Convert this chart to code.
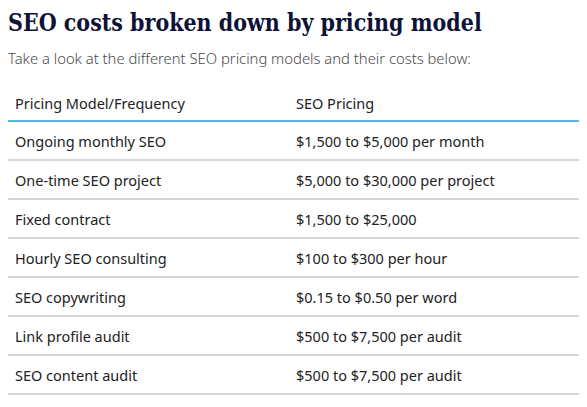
import React from 'react'

const title = 'SEO costs broken down by pricing model'
const subtitle = 'Take a look at the different SEO pricing models and their costs below:'
const headers = ['Pricing Model/Frequency', 'SEO Pricing']

const models = [
  'Ongoing monthly SEO',
  'One-time SEO project',
  'Fixed contract',
  'Hourly SEO consulting',
  'SEO copywriting',
  'Link profile audit',
  'SEO content audit',
]

const prices = [
  '$1,500 to $5,000 per month',
  '$5,000 to $30,000 per project',
  '$1,500 to $25,000',
  '$100 to $300 per hour',
  '$0.15 to $0.50 per word',
  '$500 to $7,500 per audit',
  '$500 to $7,500 per audit',
]

const sans = '"Noto Sans", "Open Sans", sans-serif'

export default function App() {
  const cell: React.CSSProperties = {
    padding: '0 0 0 8px',
    height: 37,
    borderBottom: '2px solid #d6d6d6',
    fontSize: 14.5,
    color: '#222',
    textAlign: 'left',
    fontWeight: 400,
  }
  return (
    <div style={{ width: 579, height: 399, overflow: 'hidden', position: 'relative' }}>
      <div
        style={{
          fontFamily: '"DejaVu Serif", serif',
          fontWeight: 700,
          fontSize: 24,
          color: '#0d1236',
          lineHeight: '28px',
          marginTop: 1,
          whiteSpace: 'nowrap',
          transform: 'scaleX(0.86)',
          transformOrigin: 'left center',
        }}
      >
        {title}
      </div>
      <div style={{ fontFamily: sans, fontSize: 14.8, color: '#4a4a4a', marginTop: 11, lineHeight: '20px', fontWeight: 300 }}>
        {subtitle}
      </div>
      <table
        style={{
          borderCollapse: 'collapse',
          width: 580,
          marginTop: 15,
          marginLeft: -1,
          fontFamily: sans,
        }}
      >
        <thead>
          <tr>
            <th style={{ ...cell, width: 273, paddingTop: 2, height: 35, borderBottom: '2px solid #5ab4e5' }}>{headers[0]}</th>
            <th style={{ ...cell, paddingTop: 2, height: 35, borderBottom: '2px solid #5ab4e5' }}>{headers[1]}</th>
          </tr>
        </thead>
        <tbody>
          {models.map((m, i) => (
            <tr key={m}>
              <td style={cell}>{m}</td>
              <td style={cell}>{prices[i]}</td>
            </tr>
          ))}
        </tbody>
      </table>
    </div>
  )
}
